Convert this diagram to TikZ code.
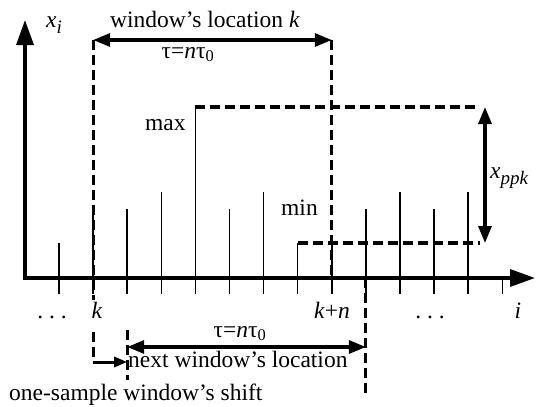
\documentclass[tikz,border=0pt]{standalone}
\usepackage{fontspec}
\setmainfont{Liberation Serif}
\usetikzlibrary{arrows.meta}

\newcommand{\lowidx}[1]{\raisebox{-0.28em}{\fontsize{19}{20}\selectfont #1}}

\begin{document}
\begin{tikzpicture}[
        x=1pt, y=-1pt,
        font=\fontsize{23.5}{28}\selectfont,
        axis/.style={line width=3.4pt, line join=miter, {Triangle[length=25pt,width=17pt]}-{Triangle[length=25pt,width=17pt]}},
        stem/.style={line width=1.5pt},
        dashline/.style={line width=3.1pt, dash pattern=on 10pt off 5pt},
        dimarrow/.style={line width=3.2pt, {Triangle[length=17pt,width=13pt]}-{Triangle[length=17pt,width=13pt]}},
        shiftarrow/.style={line width=3pt, -{Triangle[length=13pt,width=10pt]}},
        lbl/.style={inner sep=0pt, anchor=base west},
        ticklbl/.style={inner sep=0pt, anchor=base}
    ]
    \useasboundingbox (0,0) rectangle (536,407);

    % samples and ticks
    \foreach \i/\h in {0/243, 1/210, 2/209, 3/192, 4/107, 5/209, 6/192,
                       7/243, 8/240, 9/209, 10/192, 11/209, 12/192}
        \draw[stem] ({59+34.1*\i},278) -- ({59+34.1*\i},\h);
    \foreach \i in {0,...,13}
        \draw[stem] ({59+34.1*\i},278) -- ({59+34.1*\i},294);

    % key points
    \coordinate (O)      at (25,278);
    \coordinate (ytop)   at (25,20);
    \coordinate (xend)   at (535,278);
    \coordinate (wL)     at (93.1,40);
    \coordinate (wR)     at (331.8,40);
    \coordinate (kgapT)  at (93.1,300);
    \coordinate (kgapB)  at (93.1,332);
    \coordinate (shiftC) at (93.1,362);
    \coordinate (nL)     at (127.2,347);
    \coordinate (nR)     at (365.9,347);
    \coordinate (nLtop)  at (127.2,330);
    \coordinate (nLbot)  at (127.2,380);
    \coordinate (nRbot)  at (365.9,397);
    \coordinate (maxtop) at (195.4,107);
    \coordinate (mintop) at (297.7,243);
    \coordinate (maxend) at (480,107);
    \coordinate (minend) at (480,243);
    \coordinate (ppkT)   at (485,107);
    \coordinate (ppkB)   at (485,243);

    % current window
    \draw[dashline] (wL) -- (kgapT);
    \draw[dashline] (kgapB) -- (shiftC);
    \draw[dashline] (wR) -- (wR |- O);
    \draw[dimarrow] (wL) -- (wR);

    % next window
    \draw[dashline] (nLtop) -- (nLbot);
    \draw[dashline] (nR |- O) -- (nRbot);
    \draw[dimarrow] (nL) -- (nR);
    \draw[shiftarrow] (shiftC) -- (shiftC -| nL);

    % peak-to-peak
    \draw[dashline] (maxtop) -- (maxend);
    \draw[dashline] (mintop) -- (minend);
    \draw[dimarrow] (ppkT) -- (ppkB);

    % axes
    \draw[axis] (ytop) -- (O) -- (xend);

    % labels
    \node[lbl] (xlab)    at (46,27)   {\textit{x}\lowidx{\textit{i}}};
    \node[lbl] (wlab)    at (110,27)  {window's location \textit{k}};
    \node[ticklbl] (tauT) at (188,58) {τ=\textit{n}τ\textsubscript{0}};
    \node[lbl] (maxlab)  at (145,130) {max};
    \node[lbl] (minlab)  at (281,215) {min};
    \node[lbl] (ppklab)  at (490,178) {\textit{x}\lowidx{\textit{ppk}}};
    \node[ticklbl] (dotsL) at (52,318)  {.\ .\ .};
    \node[ticklbl] (klab)  at (97,318)  {\textit{k}};
    \node[ticklbl] (knlab) at (332,318) {\textit{k}+\textit{n}};
    \node[ticklbl] (dotsR) at (430,318) {.\ .\ .};
    \node[ticklbl] (ilab)  at (518,318) {\textit{i}};
    \node[ticklbl] (tauB) at (240,337) {τ=\textit{n}τ\textsubscript{0}};
    \node[lbl] (nextlab)  at (128,367) {next window's location};
    \node[lbl] (shiftlab) at (9,400)   {one-sample window's shift};

\end{tikzpicture}
\end{document}
